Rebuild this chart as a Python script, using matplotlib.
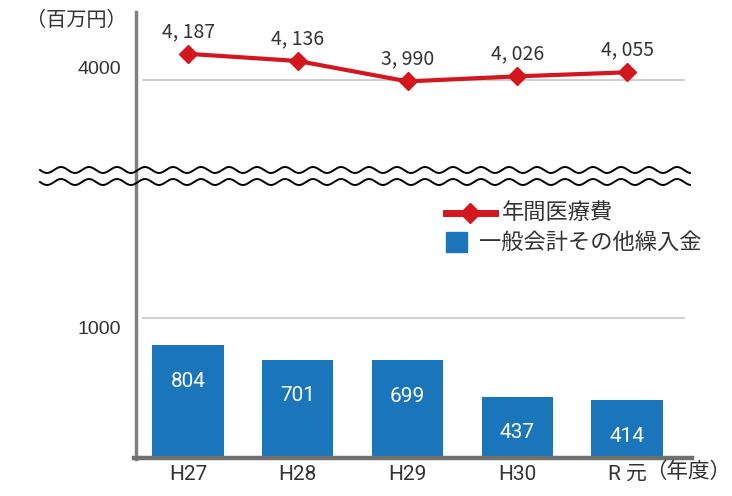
import numpy as np
import matplotlib.pyplot as plt
from matplotlib.lines import Line2D
from matplotlib.patches import Rectangle
from matplotlib.transforms import ScaledTranslation

years = ['H27', 'H28', 'H29', 'H30', 'R 元']
medical = [4187, 4136, 3990, 4026, 4055]      # 年間医療費 (百万円)
transfer = [804, 701, 699, 437, 414]          # 一般会計その他繰入金 (百万円)

RED = '#d4161e'
BLUE = '#1b75bb'
TXT = '#333333'
JP = ['Noto Sans CJK JP', 'DejaVu Sans']
NARROW = ['DejaVu Sans Condensed', 'Liberation Sans Narrow', 'Roboto', 'Noto Sans CJK JP']

plt.rcParams['font.family'] = JP

W, H = 732, 496
fig = plt.figure(figsize=(W / 100, H / 100), dpi=100)


def fx(px):
    return px / W


def fy(py):
    return 1 - py / H


left, right = 136, 690
ax_top = fig.add_axes([fx(left), fy(168), fx(right) - fx(left), fy(12) - fy(168)])
ax_bot = fig.add_axes([fx(left), fy(458), fx(right) - fx(left), fy(188) - fy(458)])

x = np.arange(len(years))
for ax in (ax_top, ax_bot):
    ax.set_xlim(-0.474, 4.574)
    for s in ax.spines.values():
        s.set_visible(False)
    ax.tick_params(length=0)
    ax.patch.set_alpha(0)

ax_top.set_ylim(3371, 4486)
ax_bot.set_ylim(0, 1929)

# gridlines
ax_top.axhline(4000, xmin=0.013, xmax=0.99, color='#cccccc', lw=1.3, zorder=0)
ax_bot.axhline(1000, xmin=0.013, xmax=0.99, color='#cccccc', lw=1.3, zorder=0)

# line series
ax_top.plot(x, medical, color=RED, lw=3, marker='D', ms=9, zorder=3)
for i, v in enumerate(medical):
    ax_top.annotate(f'{v:,}'.replace(',', ', '), (i, v), xytext=(0, 16),
                    textcoords='offset points', ha='center', va='center',
                    fontsize=14, color=TXT)

# bars
ax_bot.bar(x, transfer, width=0.65, color=BLUE, zorder=2)
for i, v in enumerate(transfer):
    ax_bot.annotate(str(v), (i, v), xytext=(0, -26), textcoords='offset points',
                    ha='center', va='center', color='white', fontsize=15,
                    family=NARROW)

# y ticks
ax_top.set_yticks([4000], ['4000'])
ax_bot.set_yticks([1000], ['1000'])
for ax, dy in ((ax_top, 9), (ax_bot, -7)):
    ax.tick_params(axis='y', pad=11, labelsize=14, labelcolor=TXT)
    for lbl in ax.get_yticklabels():
        lbl.set_family(['Liberation Sans'])
        lbl.set_transform(lbl.get_transform() + ScaledTranslation(0, dy / 72, fig.dpi_scale_trans))

ax_top.set_xticks([])
ax_bot.set_xticks(x, years)
ax_bot.tick_params(axis='x', pad=5, labelsize=15, labelcolor=TXT)
for lbl in ax_bot.get_xticklabels():
    lbl.set_family(NARROW)

# axis lines
fig.add_artist(Line2D([fx(136), fx(136)], [fy(12), fy(459)], color='#808080', lw=2.5))
fig.add_artist(Line2D([fx(134), fx(692)], [fy(458), fy(458)], color='#707070', lw=3.2))

# break marks
xs = np.linspace(40, 690, 800)
for y0 in (170, 182):
    ys = y0 + 3 * np.sin(2 * np.pi * (xs - 40) / 28)
    fig.add_artist(Line2D(fx(xs), fy(ys), color='black', lw=1.4))

# units
fig.text(fx(76), fy(20), '（百万円）', ha='center', va='center', fontsize=14.5, color=TXT)
fig.text(fx(645), fy(472), '（年度）', ha='left', va='center', fontsize=15.5, color=TXT)

# legend
fig.add_artist(Line2D([fx(446), fx(495)], [fy(213), fy(213)], color=RED, lw=5))
fig.add_artist(Line2D([fx(470)], [fy(213)], color=RED, marker='D', ms=10))
fig.text(fx(502), fy(212), '年間医療費', ha='left', va='center', fontsize=16, color=TXT)
fig.add_artist(Rectangle((fx(446), fy(252)), fx(21), 20 / H, color=BLUE,
                         transform=fig.transFigure))
fig.text(fx(479), fy(242), '一般会計その他繰入金', ha='left', va='center', fontsize=16, color=TXT)

fig.savefig('out.png', dpi=100)
